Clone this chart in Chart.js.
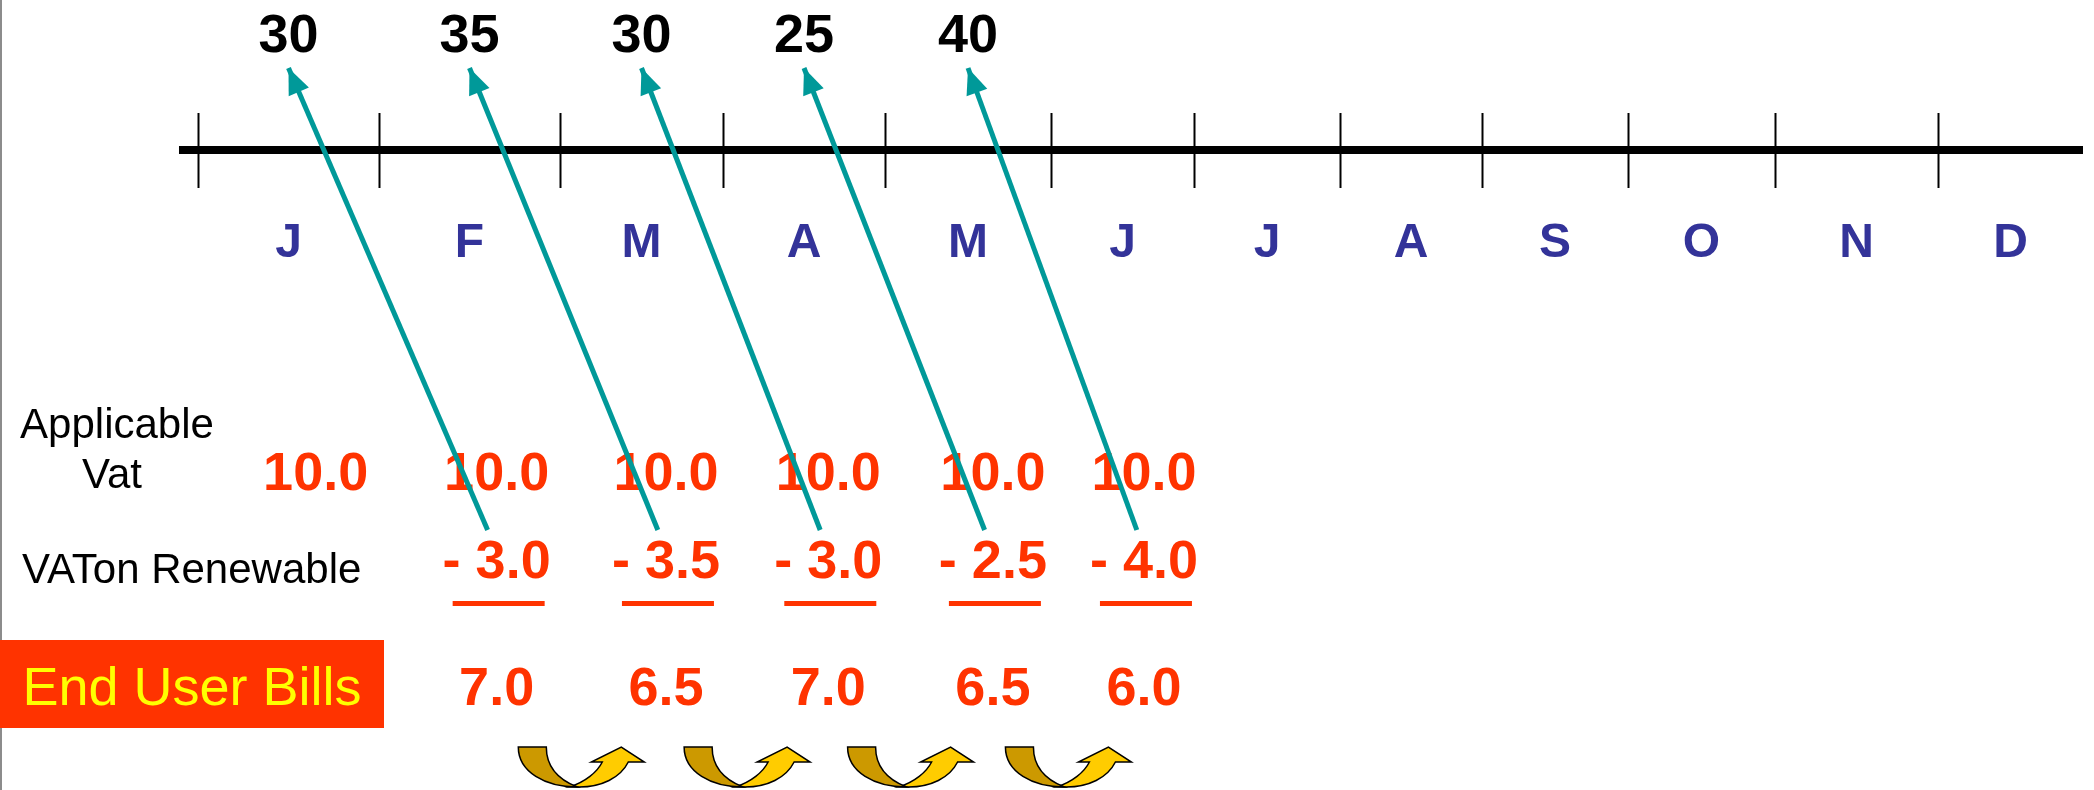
<!DOCTYPE html>
<html>
<head>
<meta charset="utf-8">
<script src="https://cdn.jsdelivr.net/npm/chart.js@4.4.1/dist/chart.umd.min.js"></script>
<style>
html, body { margin: 0; padding: 0; background: #fff; }
#wrap { position: relative; width: 2094px; height: 790px; }
</style>
</head>
<body>
<div id="wrap"><canvas id="chart"></canvas></div>
<script>
// data
const months = ['J', 'F', 'M', 'A', 'M', 'J', 'J', 'A', 'S', 'O', 'N', 'D'];
const renewableRates = [30, 35, 30, 25, 40];          // Jan..May
const applicableVat = [10.0, 10.0, 10.0, 10.0, 10.0, 10.0]; // Jan..Jun
const vatOnRenewable = [3.0, 3.5, 3.0, 2.5, 4.0];     // Feb..Jun
const endUserBills = [7.0, 6.5, 7.0, 6.5, 6.0];       // Feb..Jun

// layout: relative width of each month on the timeline, and row heights (px)
const monthWidths = [181, 181, 163, 162, 166, 143, 146, 142, 146, 147, 163, 145];
const rowY = { rate: 52, axis: 150, month: 257, vat: 490, ren: 578, rule: 603, bill: 705, box: 640, curl: 747 };
const tableShift = 0.15;
const FONT = "'Liberation Sans', Arial, sans-serif";
const RED = '#FF3300';
const TEAL = '#009999';

// linear scale whose months are not all the same width
const LinearScale = Chart.LinearScale || Chart.registry.getScale('linear');
class MonthScale extends LinearScale {
    getPixelForValue(value) {
        const total = monthWidths.reduce((a, b) => a + b, 0);
        let acc = 0;
        let v = value;
        for (let i = 0; i < monthWidths.length; i++) {
            if (v <= 1 || i === monthWidths.length - 1) {
                acc += v * monthWidths[i];
                break;
            }
            acc += monthWidths[i];
            v -= 1;
        }
        return this.left + acc / total * this.width;
    }
}
MonthScale.id = 'month';
MonthScale.defaults = LinearScale.defaults;
Chart.register(MonthScale);

// arrows: renewable rate of month i feeds the VAT deduction of month i+1
const arrowSets = renewableRates.map((r, i) => ({
    label: 'rate ' + months[i],
    data: [{ x: i + 1.5 + 0.1, y: 530 }, { x: i + 0.5, y: 68 }],
    showLine: true,
    borderColor: TEAL,
    borderWidth: 5,
    pointRadius: 0,
    fill: false
}));

function curl(ctx, x0, y0) {
    ctx.save();
    ctx.translate(x0, y0);
    ctx.lineWidth = 1.5;
    ctx.strokeStyle = '#000';
    // rising half with head
    ctx.fillStyle = '#FFCC00';
    ctx.beginPath();
    ctx.moveTo(52, 40);
    ctx.bezierCurveTo(68, 35, 80, 25, 85, 15);
    ctx.lineTo(74, 15);
    ctx.lineTo(104, 0);
    ctx.lineTo(127, 15);
    ctx.lineTo(111, 15);
    ctx.bezierCurveTo(103, 31, 84, 40, 62, 40);
    ctx.closePath();
    ctx.fill();
    ctx.stroke();
    // falling half
    ctx.fillStyle = '#CC9900';
    ctx.beginPath();
    ctx.moveTo(1, 0);
    ctx.lineTo(29, 0);
    ctx.bezierCurveTo(29, 20, 42, 33, 60, 40);
    ctx.bezierCurveTo(28, 40, 1, 25, 1, 0);
    ctx.closePath();
    ctx.fill();
    ctx.stroke();
    ctx.restore();
}

const slidePlugin = {
    id: 'slide',
    beforeDatasetsDraw(chart) {
        const { ctx, scales: { x, y } } = chart;
        ctx.save();
        ctx.fillStyle = '#8c8c8c';
        ctx.fillRect(0, 0, 2, chart.height);

        // timeline
        const ay = y.getPixelForValue(rowY.axis);
        ctx.strokeStyle = '#000';
        ctx.lineWidth = 8;
        ctx.beginPath();
        ctx.moveTo(x.getPixelForValue(-0.105), ay);
        ctx.lineTo(x.getPixelForValue(12), ay);
        ctx.stroke();
        ctx.lineWidth = 2;
        months.forEach((m, i) => {
            const px = Math.round(x.getPixelForValue(i)) + 0.5;
            ctx.beginPath();
            ctx.moveTo(px, ay - 37);
            ctx.lineTo(px, ay + 38);
            ctx.stroke();
        });

        ctx.textAlign = 'center';
        ctx.textBaseline = 'alphabetic';
        ctx.font = 'bold 48px ' + FONT;
        ctx.fillStyle = '#333399';
        months.forEach((m, i) => ctx.fillText(m, x.getPixelForValue(i + 0.5), y.getPixelForValue(rowY.month)));

        ctx.font = 'bold 54px ' + FONT;
        ctx.fillStyle = '#000';
        renewableRates.forEach((r, i) => ctx.fillText(String(r), x.getPixelForValue(i + 0.5), y.getPixelForValue(rowY.rate)));

        // row headings
        ctx.font = '42px ' + FONT;
        ctx.fillText('Applicable', 117, y.getPixelForValue(438));
        ctx.fillText('Vat', 112, y.getPixelForValue(488));
        ctx.textAlign = 'left';
        ctx.fillText('VATon Renewable', 22, y.getPixelForValue(583));

        ctx.fillStyle = RED;
        ctx.fillRect(0, y.getPixelForValue(rowY.box), 384, 88);
        ctx.fillStyle = '#FFFF00';
        ctx.textAlign = 'center';
        ctx.font = '54px ' + FONT;
        ctx.fillText('End User Bills', 192, y.getPixelForValue(rowY.bill));

        // table
        ctx.fillStyle = RED;
        ctx.font = 'bold 54px ' + FONT;
        applicableVat.forEach((v, i) => ctx.fillText(v.toFixed(1), x.getPixelForValue(i + 0.5 + tableShift), y.getPixelForValue(rowY.vat)));
        vatOnRenewable.forEach((v, i) => {
            const cx = x.getPixelForValue(i + 1.5 + tableShift);
            ctx.fillText('- ' + v.toFixed(1), cx, y.getPixelForValue(rowY.ren));
            ctx.fillRect(cx - 44, y.getPixelForValue(rowY.rule) - 2, 92, 5);
        });
        endUserBills.forEach((v, i) => ctx.fillText(v.toFixed(1), x.getPixelForValue(i + 1.5 + tableShift), y.getPixelForValue(rowY.bill)));
        ctx.restore();
    },
    afterDatasetsDraw(chart) {
        const { ctx, scales: { x, y } } = chart;
        ctx.save();
        ctx.fillStyle = TEAL;
        chart.data.datasets.forEach((ds, i) => {
            const pts = chart.getDatasetMeta(i).data;
            const p0 = pts[0], p1 = pts[1];
            const dx = p1.x - p0.x, dy = p1.y - p0.y;
            const len = Math.hypot(dx, dy);
            const ux = dx / len, uy = dy / len;
            const bx = p1.x - ux * 26, by = p1.y - uy * 26;
            ctx.beginPath();
            ctx.moveTo(p1.x, p1.y);
            ctx.lineTo(bx - uy * 11, by + ux * 11);
            ctx.lineTo(bx + uy * 11, by - ux * 11);
            ctx.closePath();
            ctx.fill();
        });

        // month-to-month curls between the bills
        for (let k = 0; k < endUserBills.length - 1; k++) {
            const a = x.getPixelForValue(k + 1.5 + tableShift);
            const b = x.getPixelForValue(k + 2.5 + tableShift);
            curl(ctx, (a + b) / 2 - 64, y.getPixelForValue(rowY.curl));
        }
        ctx.restore();
    }
};

new Chart(document.getElementById('chart').getContext('2d'), {
    type: 'scatter',
    data: { datasets: arrowSets },
    options: {
        responsive: true,
        maintainAspectRatio: false,
        animation: false,
        events: [],
        layout: { padding: { left: 198, right: 11, top: 0, bottom: 0 } },
        scales: {
            x: { type: 'month', min: 0, max: 12, display: false },
            y: { type: 'linear', min: 0, max: 790, reverse: true, display: false }
        },
        plugins: {
            legend: { display: false },
            tooltip: { enabled: false }
        }
    },
    plugins: [slidePlugin]
});
</script>
</body>
</html>
